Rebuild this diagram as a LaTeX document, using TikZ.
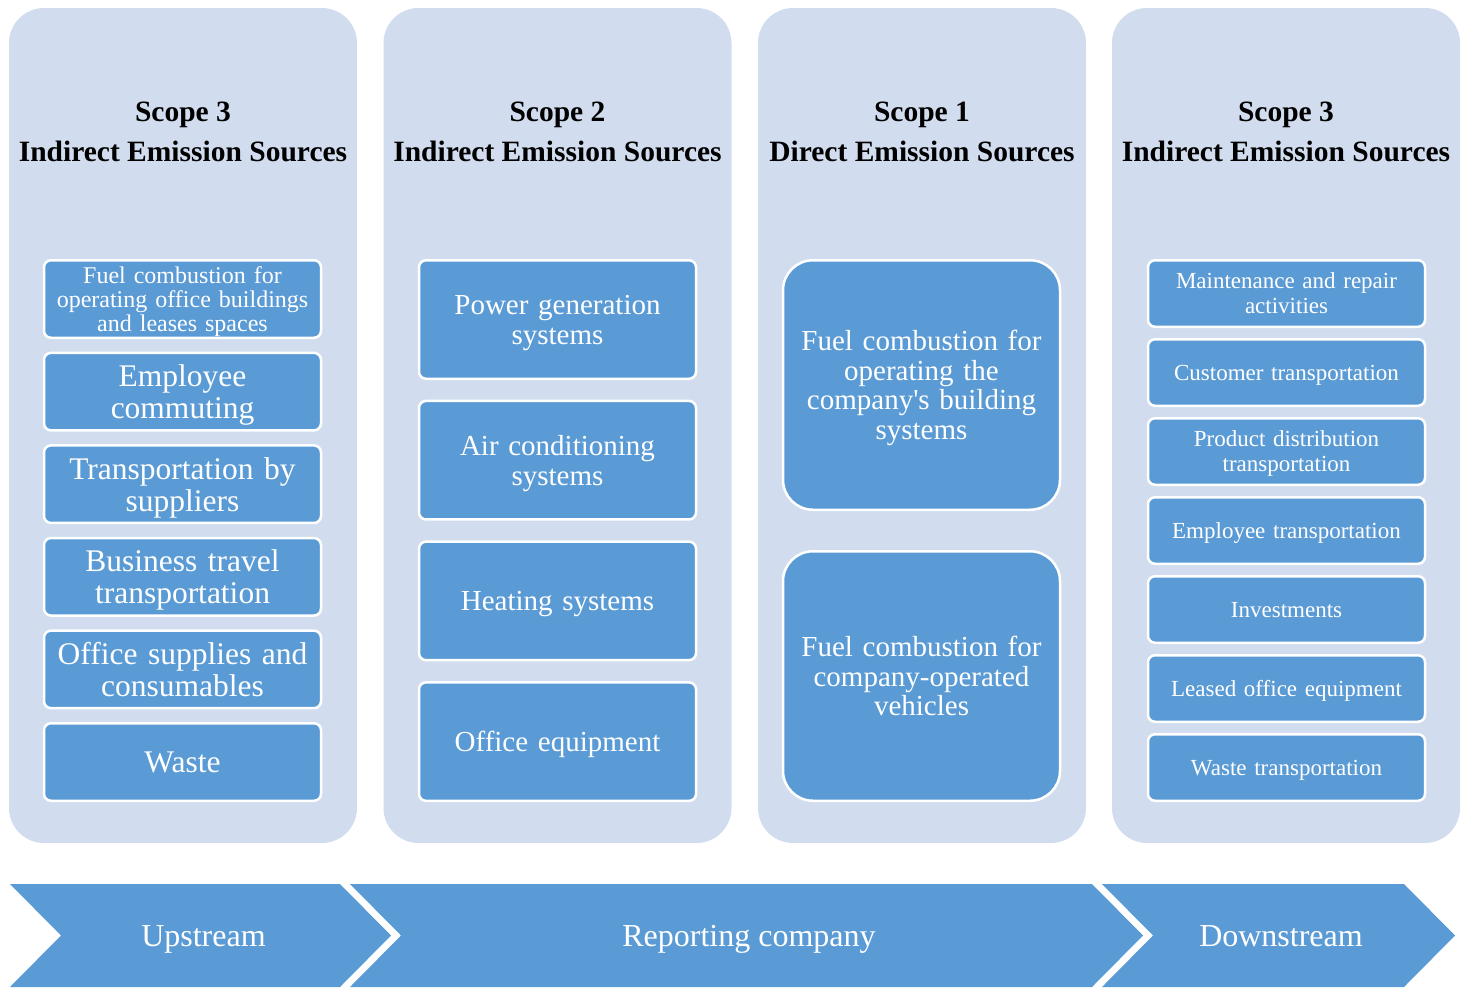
\documentclass[tikz,border=0pt]{standalone}
\usepackage{fontspec}
\setmainfont{Liberation Serif}[Ligatures=TeXOff]
\usetikzlibrary{positioning}

\definecolor{colfill}{HTML}{D1DDEE}
\definecolor{boxblue}{HTML}{5B9BD5}

\begin{document}
\begin{tikzpicture}[
    x=1pt, y=-1pt,
    scopecol/.style={fill=colfill, rounded corners=35pt, minimum width=348pt,
                     minimum height=835pt, inner sep=0pt},
    scopetitle/.style={align=center, font=\fontsize{29.5}{40}\selectfont\bfseries},
    item/.style={draw=white, line width=2.5pt, fill=boxblue, rounded corners=7pt,
                 minimum width=277pt, text width=270pt, align=center, text=white,
                 inner sep=0pt, text depth=0pt},
    lines/.style={text depth=#1},
    itemA/.style={item, minimum height=77.5pt, font=\fontsize{31.5}{32}\selectfont},
    itemB/.style={item, minimum height=118.5pt, font=\fontsize{29}{30}\selectfont},
    itemC/.style={item, minimum height=249.5pt, rounded corners=30pt,
                  font=\fontsize{29}{29.5}\selectfont},
    itemD/.style={item, minimum height=66.5pt, font=\fontsize{23}{25}\selectfont},
    chev/.style={fill=boxblue},
    chevtext/.style={text=white, font=\fontsize{32}{36}\selectfont,
                     text height=21.8pt, text depth=0pt}
]
\useasboundingbox (0,0) rectangle (1467,988);

% scope columns
\node[scopecol] (colup)   at (183,425.5) {};
\node[scopecol] (coltwo)  at (557.5,425.5) {};
\node[scopecol, minimum width=328pt] (colone) at (922,425.5) {};
\node[scopecol] (coldown) at (1286,425.5) {};

\node[scopetitle] (titleup)   at (183,132)   {Scope 3\\Indirect Emission Sources};
\node[scopetitle] (titletwo)  at (557.5,132) {Scope 2\\Indirect Emission Sources};
\node[scopetitle] (titleone)  at (922,132)   {Scope 1\\Direct Emission Sources};
\node[scopetitle] (titledown) at (1286,132)  {Scope 3\\Indirect Emission Sources};

% upstream scope 3
\node[itemA, font=\fontsize{24}{24}\selectfont, lines=48pt] (fuelup) at (182.5,299)
     {Fuel combustion for\\operating office buildings\\and leases spaces};
\node[itemA, lines=32pt, below=12.6pt of fuelup]   (commute)  {Employee\\commuting};
\node[itemA, lines=32pt, below=12.6pt of commute]  (supplier) {Transportation by\\suppliers};
\node[itemA, lines=32pt, below=12.6pt of supplier] (travel)   {Business travel\\transportation};
\node[itemA, lines=32pt, below=12.6pt of travel]   (supplies) {Office supplies and\\consumables};
\node[itemA, below=12.6pt of supplies] (wasteup)  {Waste};

% scope 2
\node[itemB, lines=30pt] (power) at (557.5,319.5) {Power generation\\systems};
\node[itemB, lines=30pt, below=19.7pt of power]   (aircon)  {Air conditioning\\systems};
\node[itemB, below=19.7pt of aircon]  (heating) {Heating systems};
\node[itemB, below=19.7pt of heating] (officeq) {Office equipment};

% scope 1
\node[itemC, lines=88.5pt] (fuelbldg) at (921.5,385)
     {Fuel combustion for\\operating the\\company's building\\systems};
\node[itemC, lines=59pt, below=39pt of fuelbldg] (fuelveh)
     {Fuel combustion for\\company-operated\\vehicles};

% downstream scope 3
\node[itemD, lines=25pt] (repair) at (1286.5,293.5) {Maintenance and repair\\activities};
\node[itemD, below=10pt of repair]   (custtr)  {Customer transportation};
\node[itemD, lines=25pt, below=10pt of custtr]   (prodtr)  {Product distribution\\transportation};
\node[itemD, below=10pt of prodtr]   (empltr)  {Employee transportation};
\node[itemD, below=10pt of empltr]   (invest)  {Investments};
\node[itemD, below=10pt of invest]   (leased)  {Leased office equipment};
\node[itemD, below=10pt of leased]   (wastetr) {Waste transportation};

% value chain chevrons
\fill[chev] (10,884) -- (340,884) -- (391,935.5) -- (340,987) -- (10,987) -- (61,935.5) -- cycle;
\fill[chev] (350,884) -- (1092,884) -- (1143,935.5) -- (1092,987) -- (350,987) -- (401,935.5) -- cycle;
\fill[chev] (1102,884) -- (1404,884) -- (1455,935.5) -- (1404,987) -- (1102,987) -- (1153,935.5) -- cycle;

\node[chevtext] (upstream)   at (203.5,935.5) {Upstream};
\node[chevtext] (reporting)  at (749,935.5)   {Reporting company};
\node[chevtext] (downstream) at (1281,935.5)  {Downstream};
\end{tikzpicture}
\end{document}
